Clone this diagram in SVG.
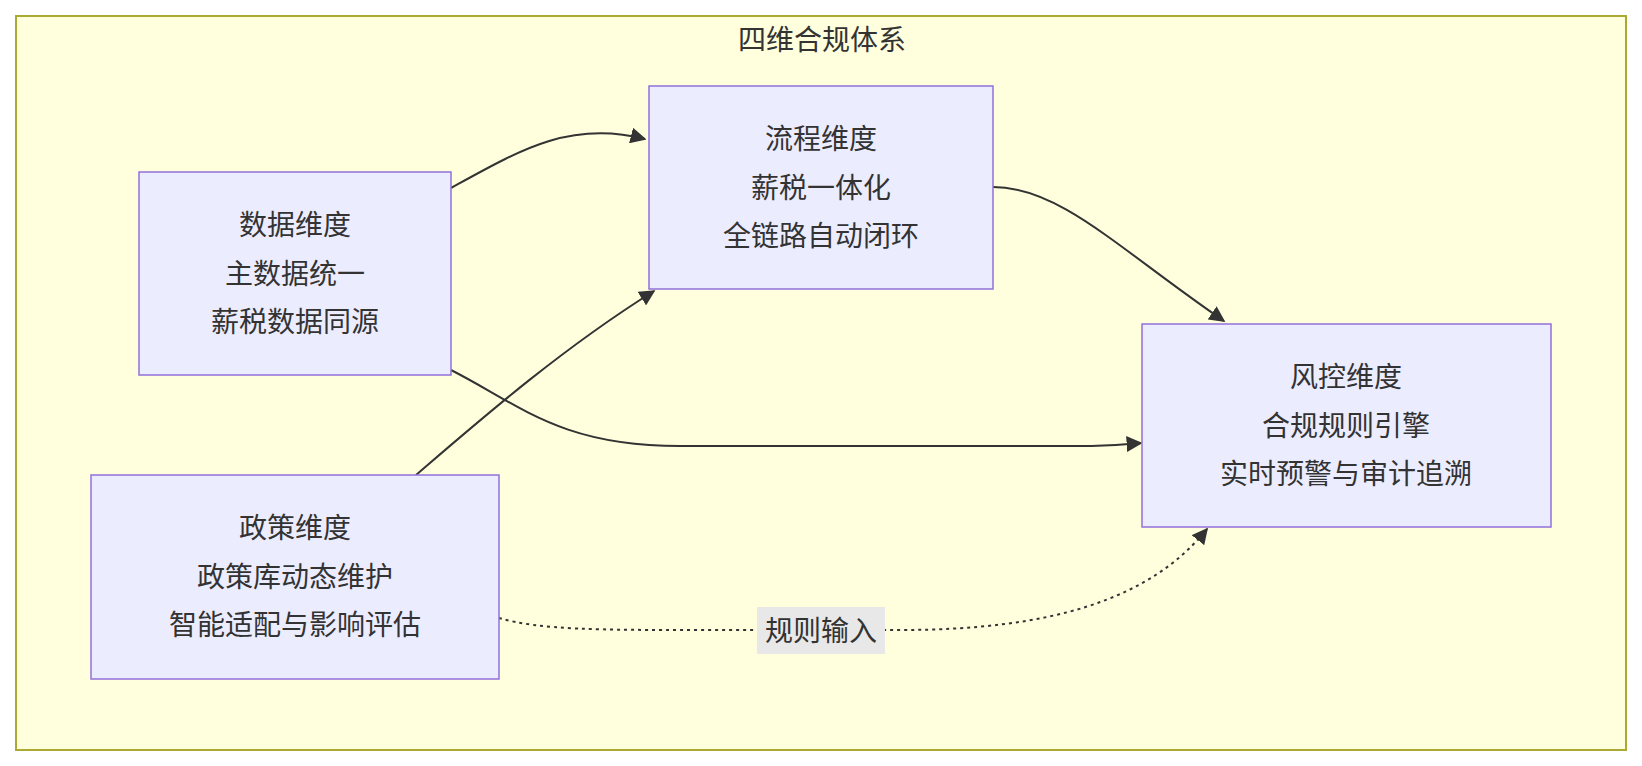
<svg xmlns="http://www.w3.org/2000/svg" width="1642" height="766" viewBox="0 0 1642 766">
<style>
text{font-family:"Noto Sans CJK SC","Liberation Sans",sans-serif;font-size:28px;fill:#333;text-anchor:middle}
.n{fill:#ececff;stroke:#9370db;stroke-width:1.5}
.e{fill:none;stroke:#333;stroke-width:2}
.d{stroke-dasharray:3 4}
</style>
<defs><marker id="a" viewBox="0 0 10 10" refX="9" refY="5" markerWidth="8" markerHeight="8" orient="auto"><path d="M0,0L10,5L0,10z" fill="#333"/></marker></defs>
<rect x="16" y="16" width="1610" height="734" fill="#ffffde" stroke="#aaaa33" stroke-width="2"/>
<text x="822" y="50">四维合规体系</text>
<g id="connectors">
<path class="e" d="M451,188 C520,150 570,120 645,139" marker-end="url(#a)"/>
<path class="e" d="M993,187 C1060,187 1120,250 1224,321" marker-end="url(#a)"/>
<path class="e" d="M451,370 C520,405 560,446 680,446 L1080,446 C1110,446 1125,444 1141,443" marker-end="url(#a)"/>
<path class="e" d="M416,475 C480,420 560,350 654,291" marker-end="url(#a)"/>
<path class="e d" d="M499,618 C540,630 600,630 700,630 L900,630 C1050,630 1150,600 1207,529" marker-end="url(#a)"/>
<rect x="757" y="607" width="128" height="47" fill="#e8e8e8"/>
<text x="821" y="641">规则输入</text>
</g>
<g id="data"><rect class="n" x="139" y="172" width="312" height="203"/>
<text x="295" y="235">数据维度</text><text x="295" y="284">主数据统一</text><text x="295" y="332">薪税数据同源</text></g>
<g id="flow"><rect class="n" x="649" y="86" width="344" height="203"/>
<text x="821" y="149">流程维度</text><text x="821" y="198">薪税一体化</text><text x="821" y="246">全链路自动闭环</text></g>
<g id="risk"><rect class="n" x="1142" y="324" width="409" height="203"/>
<text x="1346" y="387">风控维度</text><text x="1346" y="436">合规规则引擎</text><text x="1346" y="484">实时预警与审计追溯</text></g>
<g id="policy"><rect class="n" x="91" y="475" width="408" height="204"/>
<text x="295" y="538">政策维度</text><text x="295" y="587">政策库动态维护</text><text x="295" y="635">智能适配与影响评估</text></g>
</svg>
